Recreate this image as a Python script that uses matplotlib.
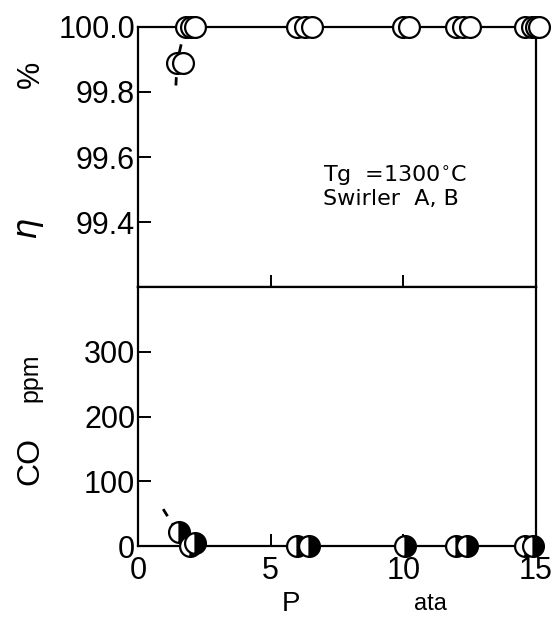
import matplotlib.pyplot as plt

plt.rcParams['font.family'] = ['Liberation Sans', 'DejaVu Sans']

# combustion efficiency (top panel), open circles
p_eta = [1.47, 1.70, 1.81, 2.0, 2.15, 6.0, 6.3, 6.55, 10.0, 10.2,
         12.0, 12.25, 12.5, 14.6, 14.85, 15.0, 15.1]
eta = [99.89, 99.89, 100.0, 100.0, 100.0, 100.0, 100.0, 100.0, 100.0, 100.0,
       100.0, 100.0, 100.0, 100.0, 100.0, 100.0, 100.0]
p_eta_trend = [1.43, 1.47, 1.75]
eta_trend = [99.82, 99.89, 99.99]

# CO emission (bottom panel), half-filled circles
p_co = [1.53, 1.98, 2.15, 6.0, 6.45, 10.05, 12.0, 12.4, 14.6, 14.9]
co = [21, 0, 5, 0, 0, 0, 0, 0, 0, 0]
p_co_trend = [0.95, 1.45]
co_trend = [57, 24]

fig = plt.figure(figsize=(5.53, 6.19), dpi=100)
ax1 = fig.add_axes([0.2495, 0.5363, 0.7195, 0.4201])
ax2 = fig.add_axes([0.2495, 0.1179, 0.7195, 0.4184])

for ax in (ax1, ax2):
    for s in ax.spines.values():
        s.set_linewidth(1.6)
    ax.set_xlim(0, 15)
    ax.set_xticks([0, 5, 10, 15])
    ax.tick_params(direction='in', length=9, width=1.4, top=False, right=False)

# top panel
ax1.plot(p_eta_trend, eta_trend, '--', color='black', lw=2, dashes=(3, 3), zorder=2)
ax1.plot(p_eta, eta, 'o', ms=15, mfc='white', mec='black', mew=1.6,
         clip_on=False, zorder=5)
ax1.set_ylim(99.2, 100.0)
ax1.set_yticks([99.4, 99.6, 99.8, 100.0])
ax1.set_yticklabels(['99.4', '99.6', '99.8', '100.0'], fontsize=22)
ax1.tick_params(axis='y', pad=2)
ax1.set_xticklabels([])
ax1.text(0.465, 0.43, 'Tg  =1300$^{\\circ}$C', transform=ax1.transAxes,
         fontsize=16, family='DejaVu Sans', va='center')
ax1.text(0.465, 0.34, 'Swirler  A, B', transform=ax1.transAxes,
         fontsize=16, family='DejaVu Sans', va='center')

# bottom panel
ax2.plot(p_co_trend, co_trend, '--', color='black', lw=2, dashes=(3, 3), zorder=2)
ax2.plot(p_co, co, 'o', ms=15, fillstyle='right', mfc='black',
         markerfacecoloralt='white', mec='black', mew=1.6, clip_on=False, zorder=5)
ax2.set_ylim(0, 400)
ax2.set_yticks([0, 100, 200, 300])
ax2.set_yticklabels(['0', '100', '200', '300'], fontsize=22)
ax2.tick_params(axis='y', pad=2)
ax2.set_xticklabels(['0', '5', '10', '15'], fontsize=22)
ax2.tick_params(axis='x', pad=7)

# axis labels
fig.text(0.055, 0.88, '%', rotation=90, fontsize=22, ha='center', va='center')
fig.text(0.055, 0.63, '$\\eta$', rotation=90, fontsize=24, ha='center', va='center')
fig.text(0.055, 0.39, 'ppm', rotation=90, fontsize=18, ha='center', va='center')
fig.text(0.055, 0.255, 'CO', rotation=90, fontsize=23, ha='center', va='center')
fig.text(0.526, 0.025, 'P', fontsize=20, ha='center', va='center')
fig.text(0.778, 0.025, 'ata', fontsize=17, ha='center', va='center')

fig.savefig('out.png', dpi=100)
